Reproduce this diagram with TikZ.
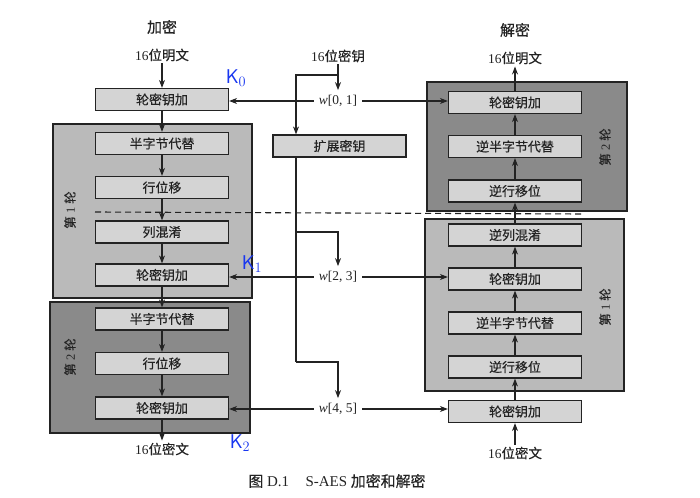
\documentclass[tikz,border=0pt]{standalone}
\usepackage{fontspec}
\setmainfont{Liberation Serif}
\newfontfamily\cjk[FakeBold=0.4]{Noto Sans CJK SC}
\usetikzlibrary{arrows.meta}
\definecolor{inkgray}{RGB}{35,35,35}
\definecolor{boxgray}{RGB}{212,212,212}
\definecolor{lightround}{RGB}{186,186,186}
\definecolor{darkround}{RGB}{138,138,138}
\definecolor{penblue}{RGB}{25,55,240}
\begin{document}
\begin{tikzpicture}[x=1bp, y=-1bp,
  every node/.style={text=inkgray},
  opbox/.style={draw=inkgray, fill=boxgray, line width=1.2pt,
    minimum width=133bp, minimum height=22bp, inner sep=0pt,
    font=\cjk\fontsize{13}{13}\selectfont},
  roundlight/.style={draw=inkgray, fill=lightround, line width=1.2pt, inner sep=0pt},
  rounddark/.style={draw=inkgray, fill=darkround, line width=1.2pt, inner sep=0pt},
  lbl/.style={font=\fontsize{13.5}{13.5}\selectfont, inner sep=2bp},
  wlbl/.style={font=\fontsize{13.5}{13.5}\selectfont, inner sep=5bp},
  roundlbl/.style={font=\fontsize{12.5}{12.5}\selectfont, rotate=90},
  note/.style={text=penblue, font=\sffamily\fontsize{20}{20}\selectfont},
  flow/.style={-{Stealth[length=8bp,width=6bp]}, line width=1.2pt, draw=inkgray}]
  \useasboundingbox (0,0) rectangle (700,498);
  % encryption
  \node[lbl, font=\cjk\fontsize{15}{15}\selectfont] (enctitle) at (162,27) {加密};
  \node[lbl] (pt) at (162,55) {16{\cjk 位明文}};
  \node[roundlight, minimum width=199bp, minimum height=174bp] (eround1) at (152.5,211) {};
  \node[rounddark, minimum width=200bp, minimum height=131bp] (eround2) at (150,367.5) {};
  \node[roundlbl] (eround1lbl) at (70,210) {{\cjk 第} 1 {\cjk 轮}};
  \node[roundlbl] (eround2lbl) at (70,357) {{\cjk 第} 2 {\cjk 轮}};
  \node[opbox] (ek0) at (162,99.5) {轮密钥加};
  \node[opbox] (es1) at (162,143.5) {半字节代替};
  \node[opbox] (er1) at (162,187.5) {行位移};
  \node[opbox] (em1) at (162,232) {列混淆};
  \node[opbox] (ek1) at (162,275) {轮密钥加};
  \node[opbox] (es2) at (162,319) {半字节代替};
  \node[opbox] (er2) at (162,363.5) {行位移};
  \node[opbox] (ek2) at (162,408) {轮密钥加};
  \node[lbl] (ct) at (162,449) {16{\cjk 位密文}};
  \foreach \a/\b in {pt/ek0, ek0/es1, es1/er1, er1/em1, em1/ek1, ek1/es2, es2/er2, er2/ek2, ek2/ct}
    \draw[flow] (\a) -- (\b);
  % decryption
  \node[lbl, font=\cjk\fontsize{15}{15}\selectfont] (dectitle) at (515,30) {解密};
  \node[lbl] (dpt) at (515,58) {16{\cjk 位明文}};
  \node[rounddark, minimum width=200bp, minimum height=129bp] (dround2) at (527,146.5) {};
  \node[roundlight, minimum width=199bp, minimum height=172bp] (dround1) at (524.5,305) {};
  \node[roundlbl] (dround2lbl) at (605,147) {{\cjk 第} 2 {\cjk 轮}};
  \node[roundlbl] (dround1lbl) at (605,307) {{\cjk 第} 1 {\cjk 轮}};
  \node[opbox] (dk2) at (515,102.5) {轮密钥加};
  \node[opbox] (ds2) at (515,146.5) {逆半字节代替};
  \node[opbox] (dr2) at (515,191) {逆行移位};
  \node[opbox] (dm1) at (515,235) {逆列混淆};
  \node[opbox] (dk1) at (515,279) {轮密钥加};
  \node[opbox] (ds1) at (515,323) {逆半字节代替};
  \node[opbox] (dr1) at (515,367) {逆行移位};
  \node[opbox] (dk0) at (515,411.5) {轮密钥加};
  \node[lbl] (dct) at (515,453) {16{\cjk 位密文}};
  \foreach \a/\b in {dct/dk0, dk0/dr1, dr1/ds1, ds1/dk1, dk1/dm1, dm1/dr2, dr2/ds2, ds2/dk2, dk2/dpt}
    \draw[flow] (\a) -- (\b);
  % key expansion
  \node[lbl] (key) at (338,56) {16{\cjk 位密钥}};
  \node[opbox] (ex) at (339.5,146) {扩展密钥};
  \node[wlbl] (w01) at (338,101) {{\itshape w}[0, 1]};
  \node[wlbl] (w23) at (338,277) {{\itshape w}[2, 3]};
  \node[wlbl] (w45) at (338,409) {{\itshape w}[4, 5]};
  \coordinate (split) at (296,75);
  \coordinate (branch1) at (296,232);
  \coordinate (branch2) at (296,362);
  \draw[flow] (key) -- (w01);
  \draw[flow] (key.south |- split) -- (split) -- (split |- ex.north);
  \draw[inkgray, line width=1.2pt] (split |- ex.south) -- (branch2);
  \draw[flow] (branch1) -| (w23);
  \draw[flow] (branch2) -| (w45);
  \draw[flow] (w01) -- (w01 -| ek0.east);
  \draw[flow] (w01) -- (w01 -| dk2.west);
  \draw[flow] (w23) -- (w23 -| ek1.east);
  \draw[flow] (w23) -- (w23 -| dk1.west);
  \draw[flow] (w45) -- (w45 -| ek2.east);
  \draw[flow] (w45) -- (w45 -| dk0.west);
  % round boundary
  \draw[inkgray, line width=1.1pt, dash pattern=on 6bp off 4bp] (95,212) -- (582,214);
  % notes
  \node[note] (nk0) at (236,78) {K$_0$};
  \node[note] (nk1) at (252,264) {K$_1$};
  \node[note] (nk2) at (240,443) {K$_2$};
  \node[font=\fontsize{15}{15}\selectfont] (cap) at (337,481) {{\cjk 图} D.1\hspace{1.1em}S-AES {\cjk 加密和解密}};
\end{tikzpicture}
\end{document}
